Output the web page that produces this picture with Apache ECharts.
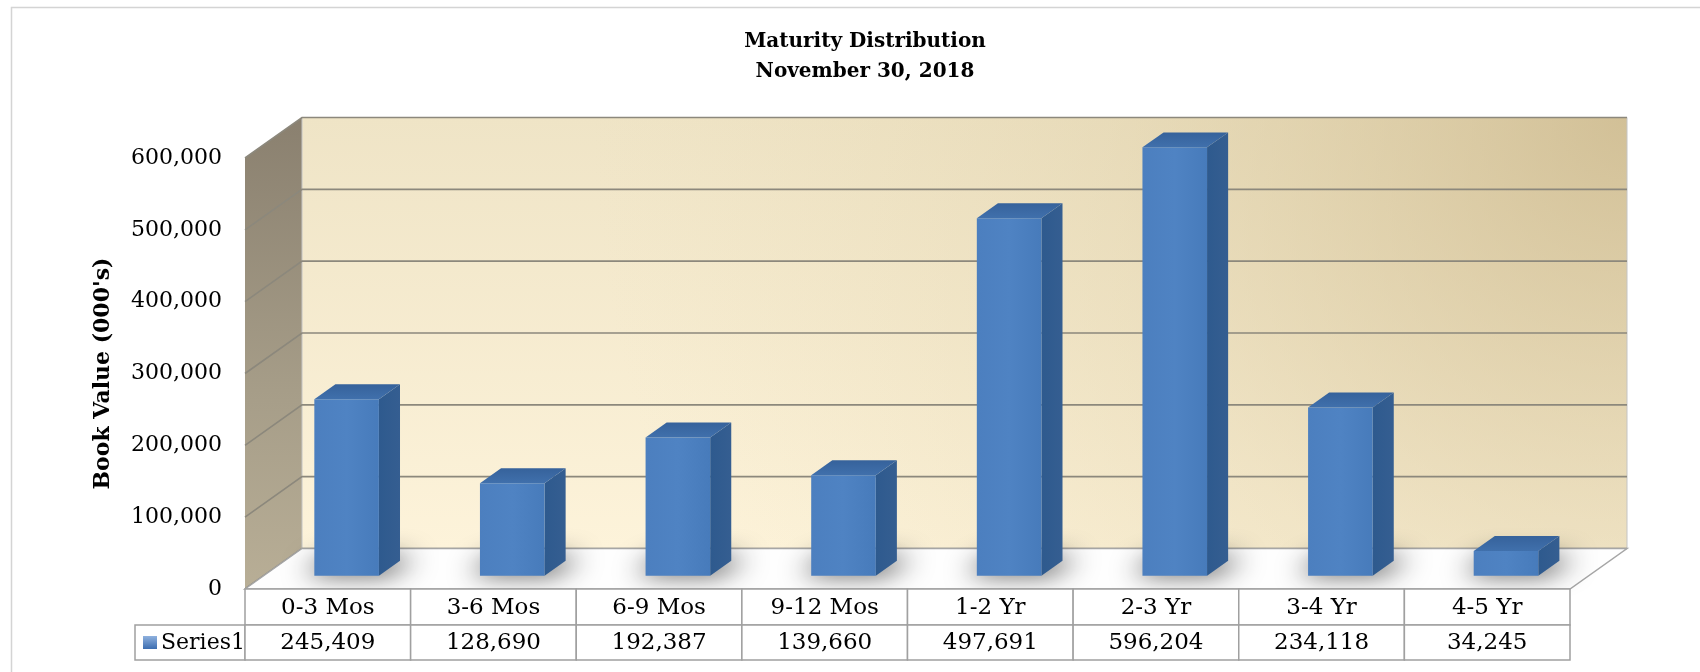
<!DOCTYPE html>
<html>
<head>
<meta charset="utf-8">
<script src="https://cdn.jsdelivr.net/npm/echarts@6/dist/echarts.min.js"></script>
<style>
  html, body { margin: 0; padding: 0; background: #fff; }
  #chart { width: 1700px; height: 672px; }
</style>
</head>
<body>
<div id="chart"></div>
<script>
const categories = ['0-3 Mos', '3-6 Mos', '6-9 Mos', '9-12 Mos', '1-2 Yr', '2-3 Yr', '3-4 Yr', '4-5 Yr'];
const bookValues = [245409, 128690, 192387, 139660, 497691, 596204, 234118, 34245];
const yTicks = [0, 100000, 200000, 300000, 400000, 500000, 600000];
const seriesName = 'Series1';

// depth of the fake 3d box in px, and where the bars sit inside it
const DX = 57, DY = -40.5;
const BAR_FRONT = 0.33, BAR_DEPTH = 0.37, BAR_WIDTH = 0.39;
const ROW1 = 36, ROW2 = 35;
const FONT = '"DejaVu Serif", "Liberation Serif", serif';
const fmt = v => Number(v).toLocaleString('en-US');

function renderWalls(params, api) {
    const cs = params.coordSys;
    const x0 = cs.x, x1 = cs.x + cs.width;
    const yb = api.coord([0, 0])[1];
    const yt = api.coord([0, yTicks[yTicks.length - 1]])[1];
    const kids = [];
    // left side wall
    kids.push({
        type: 'polygon',
        shape: { points: [[x0, yt], [x0 + DX, yt + DY], [x0 + DX, yb + DY], [x0, yb]] },
        style: { fill: new echarts.graphic.LinearGradient(0, 0, 0, 1, [
            { offset: 0, color: '#8a806f' }, { offset: 0.6, color: '#a79e89' }, { offset: 1, color: '#b8ae96' }]) }
    });
    // back wall: light cream at the bottom, tan towards the top right
    const wall = { x: x0 + DX, y: yt + DY, width: x1 - x0, height: yb - yt };
    kids.push({
        type: 'rect', shape: wall,
        style: { fill: new echarts.graphic.LinearGradient(0, 1, 0, 0, [
            { offset: 0, color: '#fdf3da' }, { offset: 1, color: '#efe4c6' }]) }
    });
    kids.push({
        type: 'rect', shape: wall,
        style: { fill: new echarts.graphic.RadialGradient(1, 0, 2.4, [
            { offset: 0, color: 'rgba(200,180,135,0.75)' }, { offset: 0.5, color: 'rgba(215,198,155,0.3)' },
            { offset: 1, color: 'rgba(230,215,175,0)' }]),
            stroke: '#c4c4c4', lineWidth: 1 }
    });
    // gridlines, running over side wall and back wall
    yTicks.forEach(v => {
        const y = api.coord([0, v])[1];
        kids.push({
            type: 'polyline',
            shape: { points: [[x0, y], [x0 + DX, y + DY], [x1 + DX, y + DY]] },
            style: { fill: null, stroke: '#8c887c', lineWidth: 1.6 }
        });
    });
    // floor
    kids.push({
        type: 'polygon',
        shape: { points: [[x0, yb], [x0 + DX, yb + DY], [x1 + DX, yb + DY], [x1, yb]] },
        style: { fill: '#fefefe', stroke: '#a6a6a6', lineWidth: 1.5 }
    });
    return { type: 'group', children: kids };
}

function renderBar(params, api) {
    const i = api.value(0), v = api.value(1);
    const base = api.coord([i, 0]), top = api.coord([i, v]);
    const w = api.size([1, 0])[0] * BAR_WIDTH;
    const bx = BAR_DEPTH * DX, by = BAR_DEPTH * DY;
    const l = base[0] - w / 2 + BAR_FRONT * DX, r = l + w;
    const b = base[1] + BAR_FRONT * DY, t = top[1] + BAR_FRONT * DY;
    const off = 4000; // shape drawn off screen, only its blurred shadow lands on the floor
    const shadowPts = [[l - 12 - off, b - 3], [r + 6 - off, b - 3], [r + bx + 18 - off, b + by - 2], [l + bx - 6 - off, b + by - 2]];
    return {
        type: 'group',
        children: [
            { type: 'polygon', shape: { points: shadowPts },
              style: { fill: '#000', shadowBlur: 26, shadowColor: 'rgba(0,0,0,0.9)', shadowOffsetX: off, shadowOffsetY: 0 } },
            {
                type: 'polygon',
                shape: { points: [[r, t], [r + bx, t + by], [r + bx, b + by], [r, b]] },
                style: { fill: new echarts.graphic.LinearGradient(0, 0, 1, 0, [
                    { offset: 0, color: '#2e5a8e' }, { offset: 1, color: '#355e91' }]) }
            },
            {
                type: 'polygon',
                shape: { points: [[l, t], [l + bx, t + by], [r + bx, t + by], [r, t]] },
                style: { fill: new echarts.graphic.LinearGradient(0, 1, 0, 0, [
                    { offset: 0, color: '#4070ac' }, { offset: 1, color: '#36629b' }]) }
            },
            {
                type: 'rect',
                shape: { x: l, y: t, width: w, height: b - t },
                style: { fill: new echarts.graphic.LinearGradient(0, 0, 1, 0, [
                    { offset: 0, color: '#4c7fbf' }, { offset: 0.5, color: '#4f83c3' }, { offset: 1, color: '#477bbb' }]) }
            }
        ]
    };
}

function renderCell(params, api) {
    const i = api.value(0);
    const cs = params.coordSys;
    const band = api.size([1, 0])[0];
    const cx = api.coord([i, 0])[0];
    const y0 = cs.y + cs.height;
    const line = { fill: '#fff', stroke: '#a0a0a0', lineWidth: 1.5 };
    return {
        type: 'group',
        children: [
            { type: 'rect', shape: { x: cx - band / 2, y: y0, width: band, height: ROW1 }, style: line },
            { type: 'rect', shape: { x: cx - band / 2, y: y0 + ROW1, width: band, height: ROW2 }, style: line },
            { type: 'text', style: { text: categories[i], x: cx, y: y0 + ROW1 / 2 + 1, align: 'center', verticalAlign: 'middle',
                fontFamily: FONT, fontSize: 23, fill: '#000' } },
            { type: 'text', style: { text: fmt(api.value(1)), x: cx, y: y0 + ROW1 + ROW2 / 2 + 1, align: 'center', verticalAlign: 'middle',
                fontFamily: FONT, fontSize: 23, fill: '#000' } }
        ]
    };
}

const chart = echarts.init(document.getElementById('chart'));
const barData = bookValues.map((v, i) => [i, v]);

chart.setOption({
    animation: false,
    backgroundColor: '#fff',
    title: {
        text: 'Maturity Distribution\nNovember 30, 2018',
        left: 860,
        top: 22,
        textAlign: 'center',
        textStyle: { fontFamily: FONT, fontWeight: 'bold', fontSize: 20, lineHeight: 30, color: '#000' }
    },
    grid: { left: 245, right: 130, top: 158, bottom: 83 },
    xAxis: {
        type: 'category',
        data: categories,
        axisLine: { show: false },
        axisTick: { show: false },
        axisLabel: { show: false }
    },
    yAxis: {
        type: 'value',
        min: 0,
        max: 600000,
        interval: 100000,
        name: "Book Value (000's)",
        nameLocation: 'middle',
        nameRotate: 90,
        nameGap: 131,
        nameTextStyle: { fontFamily: FONT, fontWeight: 'bold', fontSize: 22, color: '#000' },
        axisLine: { show: false },
        axisTick: { show: false },
        splitLine: { show: false },
        axisLabel: { margin: 23, fontFamily: FONT, fontSize: 22, color: '#000', formatter: fmt }
    },
    graphic: [
        {
            type: 'rect', silent: true, z: -10,
            shape: { x: 11.5, y: 7.5, width: 1720, height: 700 },
            style: { fill: null, stroke: '#d4d4d4', lineWidth: 1.5 }
        },
        {
            type: 'group', z: 10,
            children: [
                { type: 'rect', shape: { x: 135, y: 625, width: 110, height: 35 }, style: { fill: '#fff', stroke: '#a0a0a0', lineWidth: 1.5 } },
                { type: 'rect', shape: { x: 143, y: 636, width: 14, height: 13 },
                  style: { fill: new echarts.graphic.LinearGradient(0, 0, 0, 1, [
                      { offset: 0, color: '#8fb1de' }, { offset: 1, color: '#3c6db0' }]) } },
                { type: 'text', style: { text: seriesName, x: 161, y: 643.5, align: 'left', verticalAlign: 'middle',
                    fontFamily: FONT, fontSize: 22, fill: '#000' } }
            ]
        }
    ],
    series: [
        { type: 'custom', name: 'walls', z: 1, silent: true, data: [[0, 0]], renderItem: renderWalls },
        { type: 'custom', name: seriesName, z: 2, data: barData, renderItem: renderBar },
        { type: 'custom', name: 'table', z: 3, silent: true, data: barData, renderItem: renderCell }
    ]
});
</script>
</body>
</html>
